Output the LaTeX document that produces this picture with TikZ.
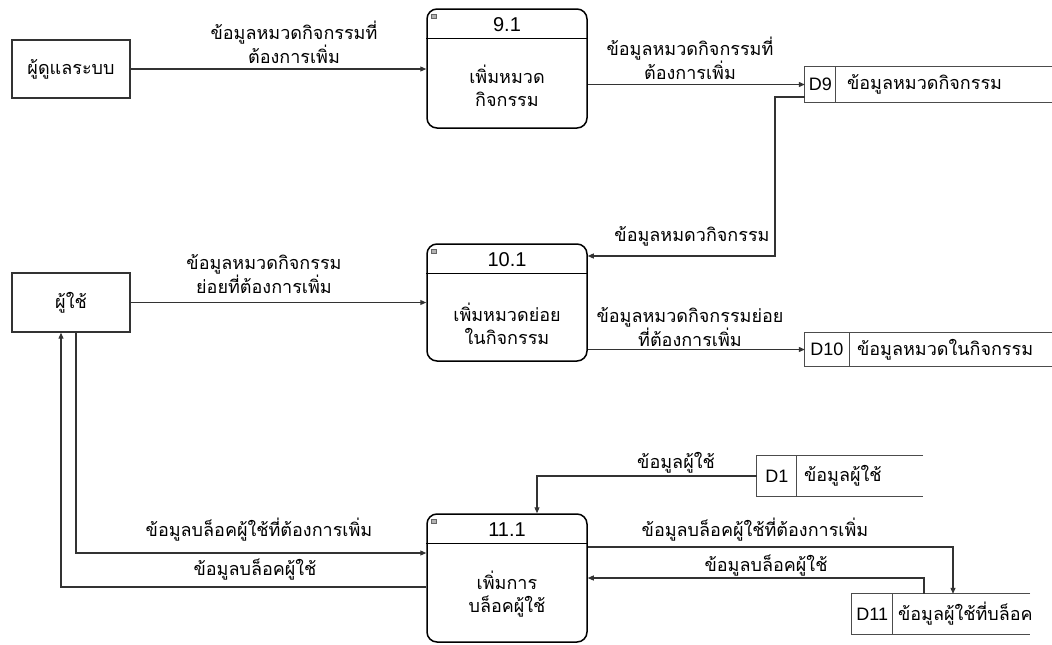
\documentclass[tikz,border=0pt]{standalone}
\usepackage{fontspec}
\setmainfont{Liberation Sans}
\newfontfamily\thaifont[Script=Thai]{Loma}
\usetikzlibrary{arrows.meta}
\begin{document}
\begin{tikzpicture}[x=1pt,y=-1pt,
  line/.style={draw=black!80, line width=1.1pt},
  flow/.style={line, -{Triangle[length=6pt,width=5pt]}},
  ext/.style={draw=black!80, line width=1.4pt, minimum width=118pt, inner sep=0pt, font=\thaifont\fontsize{18}{21}\selectfont},
  proc/.style={draw=black, line width=1.5pt, rounded corners=10pt, minimum width=160pt, inner sep=0pt},
  hdr/.style={draw=black, line width=1.5pt},
  num/.style={inner sep=0pt, font=\fontsize{20}{22}\selectfont},
  ptxt/.style={inner sep=0pt, align=center, font=\thaifont\fontsize{18}{23}\selectfont},
  icon/.style={draw=black!60, fill=black!30, line width=0.4pt, minimum width=5pt, minimum height=4pt, inner sep=0pt},
  store/.style={inner sep=0pt},
  sline/.style={draw=black!70, line width=1.1pt},
  dsid/.style={inner sep=0pt, font=\fontsize{18}{20}\selectfont},
  dsname/.style={inner sep=0pt, anchor=west, font=\thaifont\fontsize{18}{21}\selectfont},
  lbl/.style={inner sep=0pt, align=center, font=\thaifont\fontsize{18}{22}\selectfont}
]
\useasboundingbox (0,0) rectangle (1052,645);

% external entities
\node[ext, minimum height=58pt] (admin) at (71,69) {ผู้ดูแลระบบ};
\node[ext, minimum height=59pt] (user) at (71,302.5) {ผู้ใช้};

% processes
\node[proc, minimum height=119pt] (p9) at (507,68.5) {};
\draw[hdr] ([yshift=-30pt]p9.north west) -- ([yshift=-30pt]p9.north east);
\node[num] (p9n) at ([yshift=-16pt]p9.north) {9.1};
\node[icon] (p9i) at ([xshift=7pt,yshift=-8pt]p9.north west) {};
\node[ptxt] (p9t) at (507,86) {เพิ่มหมวด\\กิจกรรม};

\node[proc, minimum height=117pt] (p10) at (507,302.5) {};
\draw[hdr] ([yshift=-30pt]p10.north west) -- ([yshift=-30pt]p10.north east);
\node[num] (p10n) at ([yshift=-16pt]p10.north) {10.1};
\node[icon] (p10i) at ([xshift=7pt,yshift=-8pt]p10.north west) {};
\node[ptxt] (p10t) at (507,324) {เพิ่มหมวดย่อย\\ในกิจกรรม};

\node[proc, minimum height=128pt] (p11) at (507,578) {};
\draw[hdr] ([yshift=-30pt]p11.north west) -- ([yshift=-30pt]p11.north east);
\node[num] (p11n) at ([yshift=-16pt]p11.north) {11.1};
\node[icon] (p11i) at ([xshift=7pt,yshift=-8pt]p11.north west) {};
\node[ptxt] (p11t) at (507,594) {เพิ่มการ\\บล็อคผู้ใช้};

% data stores
\node[store, minimum width=247pt, minimum height=35pt] (d9) at (928.5,84.5) {};
\draw[sline] (d9.north east) -- (d9.north west) -- (d9.south west) -- (d9.south east);
\draw[sline] ([xshift=31pt]d9.north west) -- ([xshift=31pt]d9.south west);
\node[dsid] (d9id) at ([xshift=15.5pt]d9.west) {D9};
\node[dsname] (d9n) at ([xshift=42pt]d9.west) {ข้อมูลหมวดกิจกรรม};

\node[store, minimum width=247pt, minimum height=33pt] (d10) at (928.5,349.5) {};
\draw[sline] (d10.north east) -- (d10.north west) -- (d10.south west) -- (d10.south east);
\draw[sline] ([xshift=45pt]d10.north west) -- ([xshift=45pt]d10.south west);
\node[dsid] (d10id) at ([xshift=22pt]d10.west) {D10};
\node[dsname] (d10n) at ([xshift=52pt]d10.west) {ข้อมูลหมวดในกิจกรรม};

\node[store, minimum width=166pt, minimum height=40pt] (d1) at (840,476) {};
\draw[sline] (d1.north east) -- (d1.north west) -- (d1.south west) -- (d1.south east);
\draw[sline] ([xshift=40pt]d1.north west) -- ([xshift=40pt]d1.south west);
\node[dsid] (d1id) at ([xshift=20pt]d1.west) {D1};
\node[dsname] (d1n) at ([xshift=47pt]d1.west) {ข้อมูลผู้ใช้};

\node[store, minimum width=178pt, minimum height=40pt] (d11) at (941,614) {};
\draw[sline] (d11.north east) -- (d11.north west) -- (d11.south west) -- (d11.south east);
\draw[sline] ([xshift=41pt]d11.north west) -- ([xshift=41pt]d11.south west);
\node[dsid] (d11id) at ([xshift=20.5pt]d11.west) {D11};
\node[dsname] (d11n) at ([xshift=46pt]d11.west) {ข้อมูลผู้ใช้ที่บล็อค};

% connector corner points
\coordinate (k3) at (775,256);
\coordinate (k6) at (537,476);
\coordinate (k7) at (76,553);
\coordinate (k8) at (61,587);
\coordinate (k9) at (953,547);
\coordinate (k10) at (924,578);

% flows
\draw[flow] (admin.east) -- (admin.east -| p9.west);
\draw[flow] (d9.west -| p9.east) -- (d9.west);
\draw[flow] ([yshift=-12.5pt]d9.west) -| (k3) -- (k3 -| p10.east);
\draw[flow] (user.east) -- (user.east -| p10.west);
\draw[flow] (d10.west -| p10.east) -- (d10.west);
\draw[flow] (d1.west) -- (k6) -- (k6 |- p11.north);
\draw[flow] (user.south -| k7) -- (k7) -- (k7 -| p11.west);
\draw[flow] (k8 -| p11.west) -- (k8) -- (k8 |- user.south);
\draw[flow] (k9 -| p11.east) -- (k9) -- (k9 |- d11.north);
\draw[flow] (k10 |- d11.north) -- (k10) -- (k10 -| p11.east);

% labels
\node[lbl] (l1) at (294,42) {ข้อมูลหมวดกิจกรรมที่\\ต้องการเพิ่ม};
\node[lbl] (l2) at (690,58) {ข้อมูลหมวดกิจกรรมที่\\ต้องการเพิ่ม};
\node[lbl] (l3) at (692,236) {ข้อมูลหมดวกิจกรรม};
\node[lbl] (l4) at (264,274) {ข้อมูลหมวดกิจกรรม\\ย่อยที่ต้องการเพิ่ม};
\node[lbl] (l5) at (690,327) {ข้อมูลหมวดกิจกรรมย่อย\\ที่ต้องการเพิ่ม};
\node[lbl] (l6) at (676,463) {ข้อมูลผู้ใช้};
\node[lbl] (l7) at (259,530) {ข้อมูลบล็อคผู้ใช้ที่ต้องการเพิ่ม};
\node[lbl] (l8) at (755,530) {ข้อมูลบล็อคผู้ใช้ที่ต้องการเพิ่ม};
\node[lbl] (l9) at (766,566) {ข้อมูลบล็อคผู้ใช้};
\node[lbl] (l10) at (255,570) {ข้อมูลบล็อคผู้ใช้};
\end{tikzpicture}
\end{document}
